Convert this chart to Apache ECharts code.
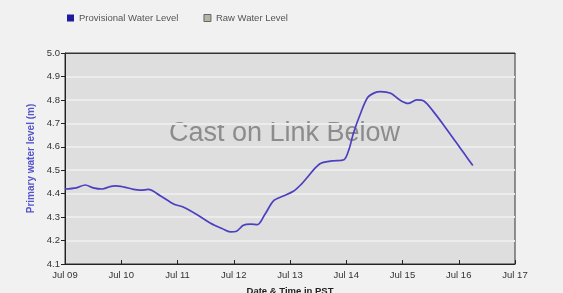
<!DOCTYPE html>
<html><head><meta charset="utf-8">
<script src="https://cdn.jsdelivr.net/npm/echarts@6/dist/echarts.min.js"></script>
<style>html,body{margin:0;padding:0;background:#f1f1f1;}#c{width:563px;height:293px;}</style>
</head><body><div id="c"></div>
<script>
// days since Jul 09 00:00
var dayOffsets = [0, 0.2, 0.36, 0.5, 0.66, 0.8, 0.89, 1.05, 1.19, 1.35, 1.48, 1.7, 1.93, 2.09, 2.35, 2.58, 2.8, 2.94, 3.05, 3.17, 3.3, 3.42, 3.55, 3.71, 3.88, 4.06, 4.2, 4.31, 4.45, 4.55, 4.75, 4.96, 5.05, 5.13, 5.25, 5.38, 5.5, 5.61, 5.79, 5.95, 6.1, 6.25, 6.38, 6.55, 6.74, 6.95, 7.1, 7.25];
var provisionalLevels = [4.42, 4.425, 4.437, 4.425, 4.42, 4.43, 4.433, 4.428, 4.42, 4.415, 4.418, 4.39, 4.356, 4.344, 4.31, 4.275, 4.25, 4.237, 4.24, 4.265, 4.27, 4.268, 4.31, 4.37, 4.39, 4.41, 4.44, 4.47, 4.51, 4.53, 4.54, 4.545, 4.59, 4.66, 4.74, 4.81, 4.83, 4.835, 4.828, 4.8, 4.785, 4.8, 4.795, 4.75, 4.69, 4.62, 4.57, 4.52];
var rawLevels = [];
var xTickLabels = ['Jul 09','Jul 10','Jul 11','Jul 12','Jul 13','Jul 14','Jul 15','Jul 16','Jul 17'];
var yMin = 4.1, yMax = 5.0;

var provData = dayOffsets.map(function(d,i){return [d, provisionalLevels[i]];});
var chart = echarts.init(document.getElementById('c'));
chart.setOption({
  backgroundColor: '#f1f1f1',
  animation: false,
  legend: {
    left: 62, top: 8, itemWidth: 7, itemHeight: 7, itemGap: 25,
    icon: 'rect',
    textStyle: {fontSize: 9.5, color: '#555', fontFamily: 'Liberation Sans'},
    data: [
      {name: 'Provisional Water Level', itemStyle: {color: '#1c1c9c'}},
      {name: 'Raw Water Level', itemStyle: {color: '#b4b4a4', borderColor: '#666', borderWidth: 1}}
    ]
  },
  grid: {left: 65, right: 48, top: 53, bottom: 29, containLabel: false, outerBoundsMode: 'none',
    show: true, backgroundColor: '#dedede', borderColor: '#333', borderWidth: 1},
  xAxis: [{
    type: 'value', min: 0, max: 8, interval: 1,
    name: 'Date & Time in PST', nameLocation: 'middle', nameGap: 22,
    nameTextStyle: {fontSize: 9.5, fontWeight: 'bold', color: '#222', fontFamily: 'Liberation Sans'},
    axisLine: {lineStyle: {color: '#222'}},
    axisTick: {show: true, length: 4, inside: true, lineStyle: {color: '#222'}},
    axisLabel: {fontSize: 9.5, color: '#333', margin: 6, fontFamily: 'Liberation Sans',
      formatter: function(v){return xTickLabels[Math.round(v)];}},
    splitLine: {show: false}
  }, {
    type: 'value', min: 0, max: 8, position: 'top',
    axisLine: {show: true, lineStyle: {color: '#333'}},
    axisTick: {show: false}, axisLabel: {show: false}, splitLine: {show: false}
  }],
  yAxis: {
    type: 'value', min: yMin, max: yMax, interval: 0.1,
    name: 'Primary water level (m)', nameLocation: 'middle', nameGap: 27, nameRotate: 90,
    nameTextStyle: {fontSize: 10, fontWeight: 'bold', color: '#5555cc', fontFamily: 'Liberation Sans'},
    axisLine: {show: true, lineStyle: {color: '#222'}},
    axisTick: {show: true, length: 4, lineStyle: {color: '#222'}},
    axisLabel: {fontSize: 9.5, color: '#333', margin: 5, fontFamily: 'Liberation Sans',
      formatter: function(v){return v.toFixed(1);}},
    splitLine: {show: true, showMaxLine: false, showMinLine: false, lineStyle: {color: '#ececec', width: 2}}
  },
  graphic: [{
    type: 'text', left: 169, top: 120, z: 0,
    style: {text: 'Cast on Link Below', fontSize: 27, fill: '#8c8c8c', fontFamily: 'Liberation Sans'}
  }],
  series: [
    {name: 'Provisional Water Level', type: 'line', data: provData, smooth: 0.3, symbol: 'none',
     lineStyle: {color: '#4a40c0', width: 1.7}, itemStyle: {color: '#1c1c9c'}, z: 5},
    {name: 'Raw Water Level', type: 'line', data: rawLevels, symbol: 'none', itemStyle: {color: '#b4b4a4'}}
  ]
});
</script></body></html>
